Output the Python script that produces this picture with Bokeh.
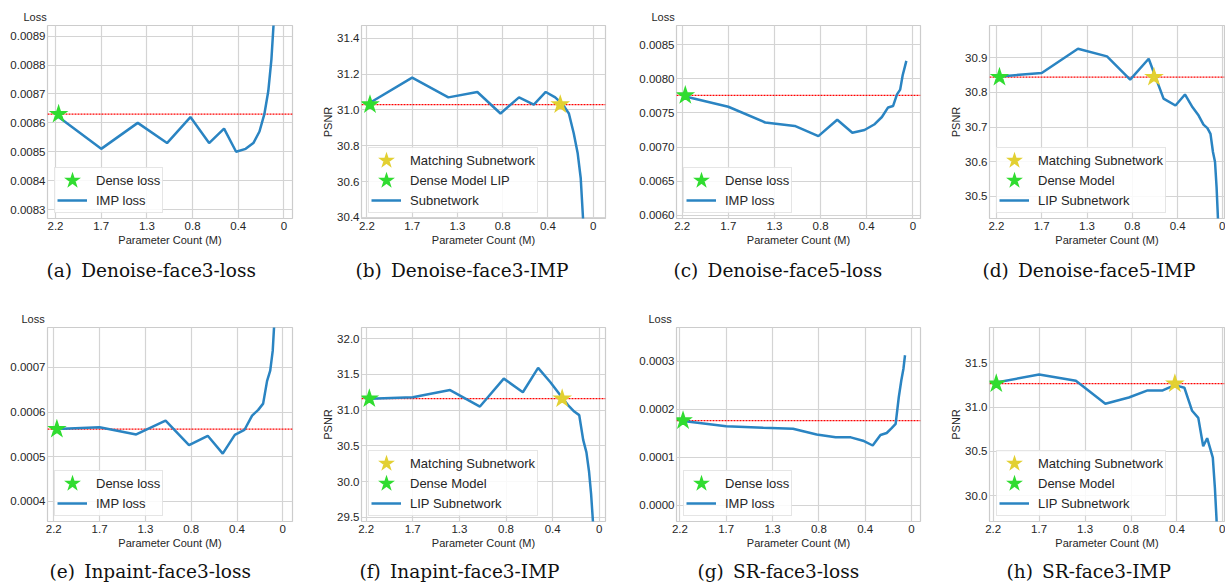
from bokeh.plotting import figure
from bokeh.models import (Range1d, FixedTicker, Span, Legend, LegendItem, Title,
                          PrintfTickFormatter)
from bokeh.layouts import row, column
from bokeh.embed import file_html
from bokeh.resources import INLINE

# ---------------- data ----------------
# remaining parameters (M) after each pruning round
param_count = [2.17, 1.76, 1.408, 1.126, 0.901, 0.721, 0.577, 0.461, 0.369,
               0.295, 0.236, 0.189, 0.151, 0.121, 0.097, 0.077, 0.062, 0.049, 0.040]

x_tick_values = [2.2, 1.76, 1.32, 0.88, 0.44, 0.0]
x_tick_labels = ["2.2", "1.7", "1.3", "0.8", "0.4", "0"]

# (a) Denoise-face3-loss
a_imp_loss = [0.00862, 0.00851, 0.00860, 0.00853, 0.00862, 0.00853, 0.00858, 0.00850,
              0.00851, 0.00853, 0.00857, 0.00863, 0.00871, 0.00882, 0.00896]
a_dense_loss = 0.00863
a_y_ticks = [0.0083, 0.0084, 0.0085, 0.0086, 0.0087, 0.0088, 0.0089]

# (b) Denoise-face3-IMP
b_psnr = [31.04, 31.18, 31.07, 31.10, 30.98, 31.07, 31.03, 31.10, 31.07, 31.03,
          30.98, 30.87, 30.76, 30.62, 30.38, 30.00]
b_dense_psnr = 31.03
b_match = (0.32, 31.03)
b_y_ticks = [30.4, 30.6, 30.8, 31.0, 31.2, 31.4]

# (c) Denoise-face5-loss
c_imp_loss = [0.00774, 0.00759, 0.00736, 0.00731, 0.00716, 0.00740, 0.00721, 0.00725,
              0.00733, 0.00744, 0.00758, 0.00760, 0.00777, 0.00784, 0.00805, 0.00817,
              0.00826]
c_dense_loss = 0.007755
c_y_ticks = [0.0060, 0.0065, 0.0070, 0.0075, 0.0080, 0.0085]

# (d) Denoise-face5-IMP
d_psnr = [30.846, 30.856, 30.926, 30.904, 30.837, 30.897, 30.782, 30.762, 30.794,
          30.757, 30.733, 30.707, 30.697, 30.680, 30.628, 30.599, 30.527, 30.440, 30.300]
d_dense_psnr = 30.844
d_match = (0.67, 30.844)
d_y_ticks = [30.5, 30.6, 30.7, 30.8, 30.9]

# (e) Inpaint-face3-loss
e_imp_loss = [0.000562, 0.000566, 0.000550, 0.000581, 0.000526, 0.000547, 0.000507,
              0.000549, 0.000560, 0.000592, 0.000605, 0.000619, 0.000670, 0.000693,
              0.000737, 0.000820]
e_dense_loss = 0.000562
e_y_ticks = [0.0004, 0.0005, 0.0006, 0.0007]

# (f) Inapint-face3-IMP
f_psnr = [31.16, 31.18, 31.28, 31.05, 31.44, 31.25, 31.59, 31.39, 31.21, 31.07,
          30.98, 30.93, 30.58, 30.41, 30.15, 29.83, 29.50, 29.20]
f_dense_psnr = 31.16
f_match = (0.35, 31.16)
f_y_ticks = [29.5, 30.0, 30.5, 31.0, 31.5, 32.0]

# (g) SR-face3-loss
g_imp_loss = [0.000175, 0.000164, 0.000161, 0.000159, 0.000147, 0.000141, 0.000141,
              0.000134, 0.000124, 0.000146, 0.000150, 0.000160, 0.000169, 0.000225,
              0.000260, 0.000284, 0.000312]
g_dense_loss = 0.000176
g_y_ticks = [0.0000, 0.0001, 0.0002, 0.0003]

# (h) SR-face3-IMP
h_psnr = [31.28, 31.37, 31.30, 31.04, 31.11, 31.19, 31.19, 31.25, 31.22, 30.96,
          30.88, 30.56, 30.65, 30.53, 30.43, 30.09, 29.75, 29.40]
h_dense_psnr = 31.266
h_match = (0.46, 31.266)
h_y_ticks = [30.0, 30.5, 31.0, 31.5]

loss_labels = ["Dense loss", "IMP loss"]
b_labels = ["Matching Subnetwork", "Dense Model LIP", "Subnetwork"]
lip_labels = ["Matching Subnetwork", "Dense Model", "LIP Subnetwork"]

captions = ["(a)\u2002Denoise-face3-loss", "(b)\u2002Denoise-face3-IMP",
            "(c)\u2002Denoise-face5-loss", "(d)\u2002Denoise-face5-IMP",
            "(e)\u2002Inpaint-face3-loss", "(f)\u2002Inapint-face3-IMP",
            "(g)\u2002SR-face3-loss", "(h)\u2002SR-face3-IMP"]

# ---------------- layout / style ----------------
# (min_border_left, frame_width, min_border_right) per column
COLS = [(47, 245, 18), (51, 244, 15), (56, 244, 10), (59, 235, 1)]
# (min_border_top, frame_height, min_border_bottom, caption spacer) per row
ROWS = [(25, 193, 82, 8), (27, 194, 64, 6)]

LINE_COLOR = "#2a84c2"
GREEN = "#22f222"
GREEN_EDGE = "#30dc30"
YELLOW = "#f3e53c"
YELLOW_EDGE = "#e2d032"
TXT = "#262626"
SANS = "Liberation Sans"

panels = [
    dict(kind="loss", y=a_imp_loss, dense=a_dense_loss, match=None, yt=a_y_ticks, fmt="%.4f",
         labels=loss_labels, xr=(2.277, -0.082), yr=(0.008269, 0.008937), loss_off=-24, cap_off=-1),
    dict(kind="psnr", y=b_psnr, dense=b_dense_psnr, match=b_match, yt=b_y_ticks, fmt="%.1f",
         labels=b_labels, xr=(2.2525, -0.12), yr=(30.394, 31.471), cap_off=-6),
    dict(kind="loss", y=c_imp_loss, dense=c_dense_loss, match=None, yt=c_y_ticks, fmt="%.4f",
         labels=loss_labels, xr=(2.254, -0.073), yr=(0.005956, 0.008778), loss_off=-25, cap_off=-3),
    dict(kind="psnr", y=d_psnr, dense=d_dense_psnr, match=d_match, yt=d_y_ticks, fmt="%.1f",
         labels=lip_labels, xr=(2.267, -0.015), yr=(30.436, 30.993), cap_off=-7),
    dict(kind="loss", y=e_imp_loss, dense=e_dense_loss, match=None, yt=e_y_ticks, fmt="%.4f",
         labels=loss_labels, xr=(2.26, -0.093), yr=(0.000355, 0.0007895), loss_off=-26, cap_off=2),
    dict(kind="psnr", y=f_psnr, dense=f_dense_psnr, match=f_match, yt=f_y_ticks, fmt="%.1f",
         labels=lip_labels, xr=(2.244, -0.059), yr=(29.444, 32.154), cap_off=-2),
    dict(kind="loss", y=g_imp_loss, dense=g_dense_loss, match=None, yt=g_y_ticks, fmt="%.4f",
         labels=loss_labels, xr=(2.232, -0.085), yr=(-0.0000343, 0.0003698), loss_off=-28, cap_off=21),
    dict(kind="psnr", y=h_psnr, dense=h_dense_psnr, match=h_match, yt=h_y_ticks, fmt="%.1f",
         labels=lip_labels, xr=(2.235, -0.015), yr=(29.709, 31.901), cap_off=17),
]


def make_panel(i, spec):
    ci, ri = i % 4, i // 4
    bl, fw, br = COLS[ci]
    bt, fh, bb, spacer = ROWS[ri]
    p = figure(frame_width=fw, frame_height=fh,
               min_border_left=bl, min_border_right=br,
               min_border_top=bt, min_border_bottom=bb,
               x_range=Range1d(*spec["xr"]), y_range=Range1d(*spec["yr"]),
               output_backend="svg", toolbar_location=None, tools="",
               background_fill_color="white", border_fill_color="white",
               outline_line_color="#cccccc", outline_line_width=1.2)

    # axes
    p.xaxis.ticker = FixedTicker(ticks=x_tick_values)
    p.xaxis.major_label_overrides = dict(zip(x_tick_values, x_tick_labels))
    p.xaxis.axis_label = "Parameter Count (M)"
    p.yaxis.ticker = FixedTicker(ticks=spec["yt"])
    p.yaxis.formatter = PrintfTickFormatter(format=spec["fmt"])
    if spec["kind"] == "psnr":
        p.yaxis.axis_label = "PSNR"
    for ax in (p.xaxis[0], p.yaxis[0]):
        ax.axis_line_color = None
        ax.major_tick_line_color = None
        ax.minor_tick_line_color = None
        ax.major_tick_out = 0
        ax.major_tick_in = 0
        ax.minor_tick_out = 0
        ax.minor_tick_in = 0
        ax.major_label_text_font = SANS
        ax.major_label_text_font_size = "11.5px"
        ax.major_label_text_color = TXT
        ax.axis_label_text_font = SANS
        ax.axis_label_text_font_size = "11px"
        ax.axis_label_text_font_style = "normal"
        ax.axis_label_text_color = TXT
    p.xaxis.major_label_standoff = 3
    p.xaxis.axis_label_standoff = 1
    p.yaxis.major_label_standoff = 2
    p.yaxis.axis_label_standoff = 0
    for g in (p.xgrid[0], p.ygrid[0]):
        g.grid_line_color = "#d4d4d4"
        g.grid_line_width = 1.2

    # dense reference line
    p.add_layout(Span(location=spec["dense"], dimension="width", line_color="#ff0000",
                      line_dash="2 1", line_width=1.3, level="underlay"))

    n = len(spec["y"])
    line_r = p.line(param_count[:n], spec["y"], line_color=LINE_COLOR, line_width=2.5)
    if spec["match"] is not None:
        match_r = p.scatter([spec["match"][0]], [spec["match"][1]], marker="star", size=11,
                            fill_color=YELLOW, line_color=YELLOW_EDGE, line_width=3,
                            line_join="miter")
    dense_r = p.scatter([param_count[0]], [spec["dense"]], marker="star", size=11,
                        fill_color=GREEN, line_color=GREEN_EDGE, line_width=3,
                        line_join="miter")
    labels = spec["labels"]
    if spec["match"] is not None:
        items = [LegendItem(label=labels[0], renderers=[match_r]),
                 LegendItem(label=labels[1], renderers=[dense_r]),
                 LegendItem(label=labels[2], renderers=[line_r])]
    else:
        items = [LegendItem(label=labels[0], renderers=[dense_r]),
                 LegendItem(label=labels[1], renderers=[line_r])]
    legend = Legend(items=items, location=(7, 5), orientation="vertical",
                    label_text_font=SANS, label_text_font_size="13px", label_text_color=TXT,
                    border_line_color="#cccccc", border_line_width=1,
                    background_fill_color="white", background_fill_alpha=0.85,
                    padding=2, spacing=0, margin=0, glyph_height=20, glyph_width=30,
                    label_standoff=9, label_height=20)
    p.add_layout(legend)

    if spec["kind"] == "loss":
        p.add_layout(Title(text="Loss", align="left", offset=spec["loss_off"], standoff=5,
                           text_font=SANS, text_font_size="11px", text_font_style="normal",
                           text_color=TXT, vertical_align="bottom"), "above")

    p.add_layout(Title(text=" ", text_font_size="1px", standoff=spacer), "below")
    p.add_layout(Title(text=captions[i], align="left", offset=spec["cap_off"], standoff=0,
                       text_font="DejaVu Serif", text_font_size="18.5px",
                       text_font_style="normal", text_color="#111111",
                       vertical_align="top"), "below")
    return p


figs = [make_panel(i, s) for i, s in enumerate(panels)]
layout = column(row(*figs[:4]), row(*figs[4:]))

open("out.html", "w").write(file_html(layout, INLINE))
